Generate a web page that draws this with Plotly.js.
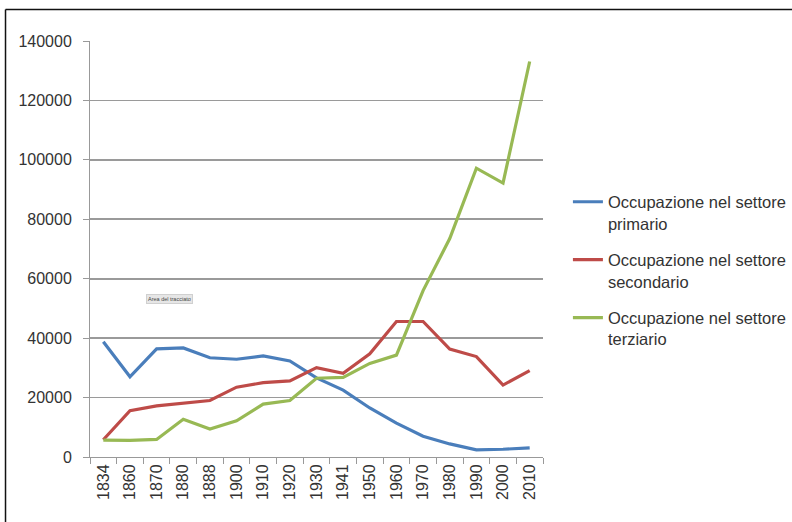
<!DOCTYPE html>
<html>
<head>
<meta charset="utf-8">
<script src="https://cdn.plot.ly/plotly-3.0.1.min.js"></script>
<style>
  html, body { margin: 0; padding: 0; background: #fff; }
  #chart { width: 792px; height: 522px; }
</style>
</head>
<body>
<div id="chart"></div>
<script>
// Census years (categorical axis)
const anni = ["1834", "1860", "1870", "1880", "1888", "1900", "1910", "1920", "1930",
              "1941", "1950", "1960", "1970", "1980", "1990", "2000", "2010"];

// Employment by sector
const primario   = [38800, 27000, 36400, 36700, 33400, 32900, 34000, 32300, 26600,
                    22500, 16500, 11400, 7000, 4400, 2400, 2600, 3100];
const secondario = [5800, 15600, 17200, 18100, 19000, 23500, 25000, 25600, 30100,
                    28200, 34700, 45600, 45600, 36300, 33800, 24200, 29100];
const terziario  = [5700, 5600, 5900, 12700, 9400, 12200, 17800, 19000, 26500,
                    26800, 31500, 34300, 56000, 73500, 97200, 92200, 133100];

const nomi = [
  "Occupazione nel settore<br>primario",
  "Occupazione nel settore<br>secondario",
  "Occupazione nel settore<br>terziario"
];
const colori = ["#4A7EBB", "#BE4B48", "#98B954"];
const serie = [primario, secondario, terziario];

const traces = serie.map((vals, i) => ({
  type: "scatter",
  mode: "lines",
  x: anni,
  y: vals,
  name: nomi[i],
  legendgroup: "g" + i,
  line: { color: colori[i], width: 3.2 },
  hoverinfo: "skip"
}));

const layout = {
  width: 792,
  height: 522,
  margin: { l: 90, r: 249, t: 41, b: 65, autoexpand: false },
  paper_bgcolor: "#ffffff",
  plot_bgcolor: "#ffffff",
  font: { family: "Liberation Sans, Arial, sans-serif", color: "#333333", size: 16 },
  showlegend: true,
  legend: {
    x: 1.055, xanchor: "left",
    y: 0.655, yanchor: "top",
    valign: "top",
    traceorder: "grouped",
    tracegroupgap: 12,
    font: { size: 16.5, color: "#333333" },
    bgcolor: "rgba(0,0,0,0)"
  },
  xaxis: {
    type: "category",
    range: [-0.5, 16.5],
    showgrid: false,
    zeroline: false,
    showline: true,
    linecolor: "#999999",
    linewidth: 1,
    ticks: "outside",
    tickson: "boundaries",
    ticklen: 6,
    tickcolor: "#999999",
    tickangle: -90,
    tickfont: { size: 16, color: "#333333" },
    automargin: false,
    fixedrange: true
  },
  yaxis: {
    range: [0, 140000],
    tickvals: [0, 20000, 40000, 60000, 80000, 100000, 120000, 140000],
    ticktext: ["0", "20000", "40000", "60000", "80000", "100000", "120000", "140000"],
    showgrid: true,
    gridcolor: "#9a9a9a",
    gridwidth: 1.6,
    zeroline: false,
    showline: true,
    linecolor: "#999999",
    linewidth: 1,
    ticks: "outside",
    ticklen: 6,
    tickcolor: "#999999",
    ticklabelstandoff: 8,
    tickfont: { size: 16, color: "#333333" },
    automargin: false,
    fixedrange: true
  },
  shapes: [
    // frame edges: left and top
    {
      type: "line", xref: "paper", yref: "paper",
      x0: -0.1865, x1: -0.1865, y0: -0.2, y1: 1.0757,
      line: { color: "#111111", width: 1.5 }, layer: "below"
    },
    {
      type: "line", xref: "paper", yref: "paper",
      x0: -0.1865, x1: 1.6, y0: 1.0757, y1: 1.0757,
      line: { color: "#111111", width: 1.5 }, layer: "below"
    }
  ],
  annotations: [
    {
      xref: "paper", yref: "paper",
      x: 0.1766, y: 0.38,
      xanchor: "center", yanchor: "middle",
      text: "Area del tracciato",
      showarrow: false,
      font: { size: 5.5, color: "#444444" },
      bgcolor: "#e6e6e6",
      bordercolor: "#d0d0d0",
      borderwidth: 1,
      borderpad: 1
    }
  ]
};

Plotly.newPlot("chart", traces, layout, { staticPlot: true, displayModeBar: false });
</script>
</body>
</html>
